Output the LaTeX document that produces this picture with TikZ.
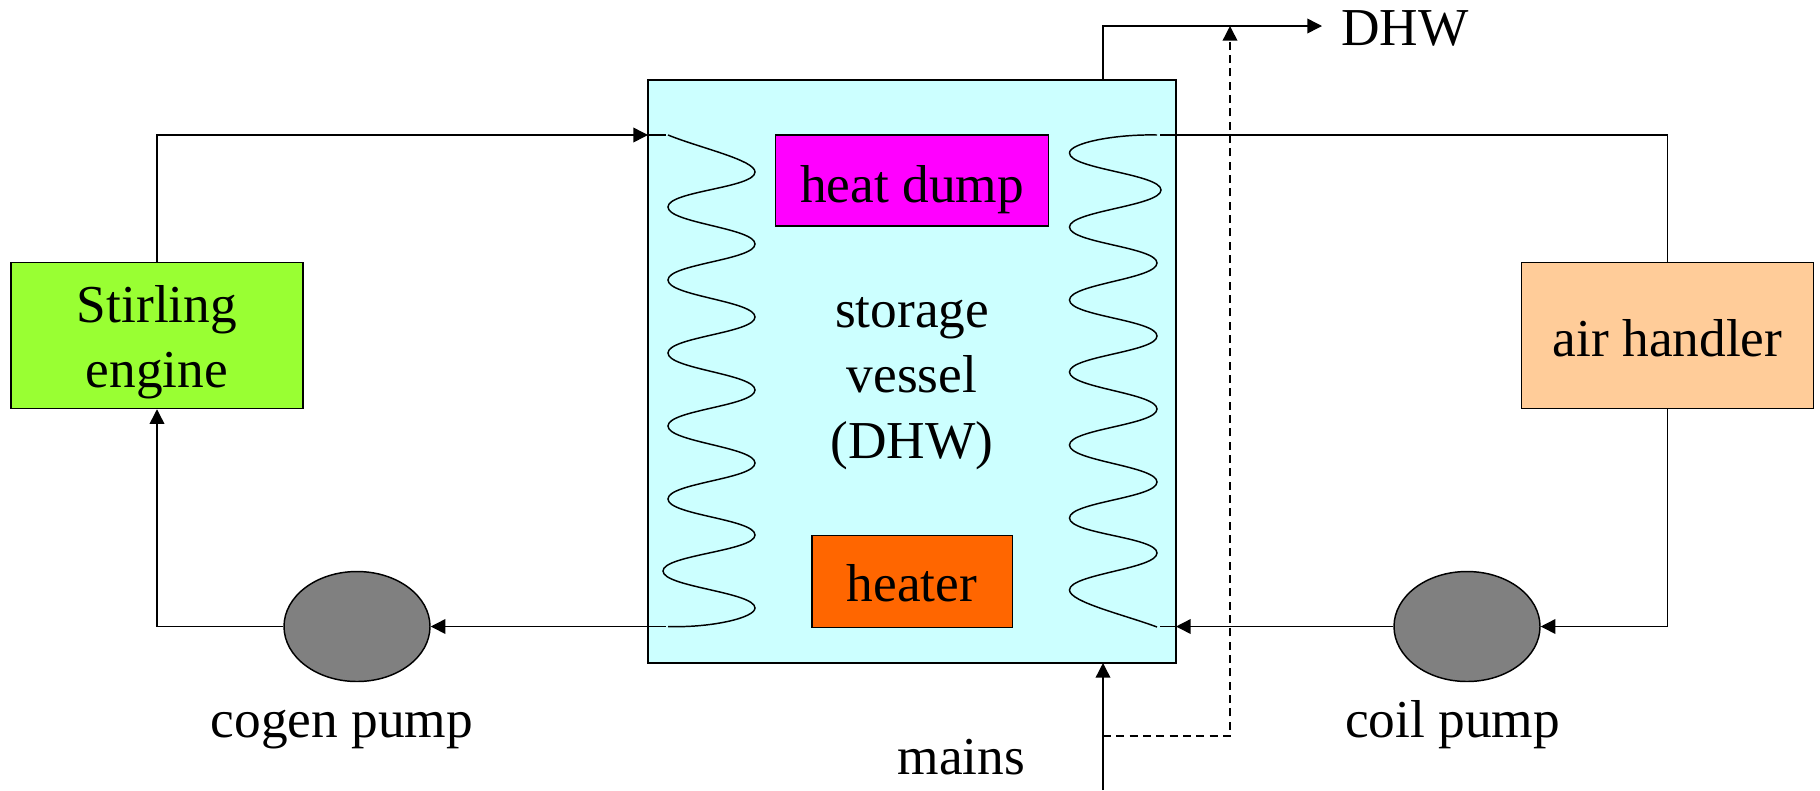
\documentclass[tikz,border=0pt]{standalone}
\usepackage{fontspec}
\setmainfont{Liberation Serif}
\usetikzlibrary{arrows.meta,shapes.geometric}
\definecolor{vesselblue}{HTML}{CCFFFF}
\definecolor{dumpmagenta}{HTML}{FF00FF}
\definecolor{heaterorange}{HTML}{FF6600}
\definecolor{enginegreen}{HTML}{99FF33}
\definecolor{handlerpeach}{HTML}{FFCC99}
\definecolor{pumpgrey}{HTML}{808080}
\tikzset{
  unitbox/.style={draw,line width=1.1pt,inner sep=0pt},
  unittext/.style={inner sep=0pt,align=center,font=\fontsize{40}{49}\selectfont},
  pumpshape/.style={draw,ellipse,line width=1.1pt,fill=pumpgrey,inner sep=0pt,minimum width=109.5pt,minimum height=82.5pt},
  caption/.style={inner sep=0pt,anchor=base,font=\fontsize{40}{49}\selectfont},
  pipe/.style={line width=1.1pt},
  flow/.style={line width=1.1pt,-{Triangle[length=11pt,width=11pt]}},
  bypass/.style={line width=1.1pt,dash pattern=on 6pt off 4pt,-{Triangle[length=11pt,width=11pt]}}
}
\begin{document}
\begin{tikzpicture}[x=0.75pt,y=0.75pt,yscale=-1]
\useasboundingbox (0,0) rectangle (1820,790);

%vessel and the boxes inside it
\node (vessel) [unitbox,fill=vesselblue,minimum width=396pt,minimum height=437.25pt] at (912,371.5) {};
\node (dump) [unitbox,fill=dumpmagenta,minimum width=204.75pt,minimum height=68.25pt] at (912,180.5) {};
\node (heater) [unitbox,fill=heaterorange,minimum width=150.5pt,minimum height=69pt] at (912.3,581.5) {};

%units outside
\node (engine) [unitbox,fill=enginegreen,minimum width=219pt,minimum height=109.5pt] at (157,335.5) {};
\node (handler) [unitbox,fill=handlerpeach,minimum width=219pt,minimum height=109.5pt] at (1667.5,335.5) {};
\node (cogenpump) [pumpshape] at (357,626.5) {};
\node (coilpump) [pumpshape] at (1467,626.5) {};

%text in the boxes
\node (dumptext) [unittext] at (912,190) {heat dump};
\node (heatertext) [unittext] at (912,583.5) {heater};
\node (storetext) [unittext] at (912,383.5) {storage\\vessel\\(DHW)};
\node (enginetext) [unittext] at (157,342.5) {Stirling\\engine};
\node (handlertext) [unittext] at (1667.5,338) {air handler};

%captions
\node (cogenlabel) [caption] at (342,737) {cogen pump};
\node (coillabel) [caption] at (1452.6,737) {coil pump};
\node (mainslabel) [caption] at (961.5,774) {mains};
\node (dhwlabel) [caption,anchor=base west] at (1341,45) {DHW};

%free ends
\coordinate (cogenin) at (648,135);
\coordinate (cogenstub) at (666,135);
\coordinate (cogenout) at (666,626.5);
\coordinate (airout) at (1160,135);
\coordinate (airin) at (1176,626.5);
\coordinate (airstub) at (1160,626.5);
\coordinate (mainsend) at (1103,790);
\coordinate (mainsin) at (1103,663);
\coordinate (drawoff) at (1103,80);
\coordinate (dhwend) at (1322,26);
\coordinate (tee) at (1103,736);
\coordinate (mixer) at (1230,26);

%left coil
\draw [pipe] (668,135) .. controls (700,148) and (755,160) .. (755,172) .. controls (755,188) and (668,191) .. (668,207) .. controls (668,223) and (755,228) .. (755,244) .. controls (755,260) and (668,264) .. (668,280) .. controls (668,296) and (755,301) .. (755,317) .. controls (755,333) and (668,337) .. (668,353) .. controls (668,369) and (755,374) .. (755,390) .. controls (755,406) and (668,410) .. (668,426) .. controls (668,442) and (755,447) .. (755,463) .. controls (755,479) and (668,483) .. (668,499) .. controls (668,515) and (755,519) .. (755,535) .. controls (755,551) and (663,555) .. (663,571) .. controls (663,587) and (755,592) .. (755,608) .. controls (755,618) and (710,628) .. (668,626.5) ;
%right coil
\draw [pipe] (1157,135) .. controls (1115,134) and (1069.5,143) .. (1069.5,153) .. controls (1069.5,169) and (1161,174) .. (1161,190) .. controls (1161,206) and (1069.5,211) .. (1069.5,227) .. controls (1069.5,243) and (1157,247) .. (1157,263) .. controls (1157,279) and (1069.5,284) .. (1069.5,300) .. controls (1069.5,316) and (1157,320) .. (1157,336) .. controls (1157,352) and (1069.5,356) .. (1069.5,372) .. controls (1069.5,388) and (1157,393) .. (1157,409) .. controls (1157,425) and (1069.5,429) .. (1069.5,445) .. controls (1069.5,461) and (1157,466) .. (1157,482) .. controls (1157,498) and (1069.5,502) .. (1069.5,518) .. controls (1069.5,534) and (1157,537) .. (1157,553) .. controls (1157,569) and (1069.5,574) .. (1069.5,590) .. controls (1069.5,602) and (1125,615) .. (1157,627) ;

%connectors
\draw [flow] (engine.north) |- (cogenin);
\draw [pipe] (cogenin) -- (cogenstub);
\draw [flow] (cogenout) -- (cogenpump.east);
\draw [flow] (cogenpump.west) -| (engine.south);
\draw [pipe] (handler.north) |- (airout);
\draw [flow] (handler.south) |- (coilpump.east);
\draw [flow] (coilpump.west) -- (airin);
\draw [pipe] (airin) -- (airstub);
\draw [flow] (mainsend) -- (mainsin);
\draw [flow] (drawoff) |- (dhwend);
\draw [bypass] (tee) -| (mixer);

\end{tikzpicture}
\end{document}
